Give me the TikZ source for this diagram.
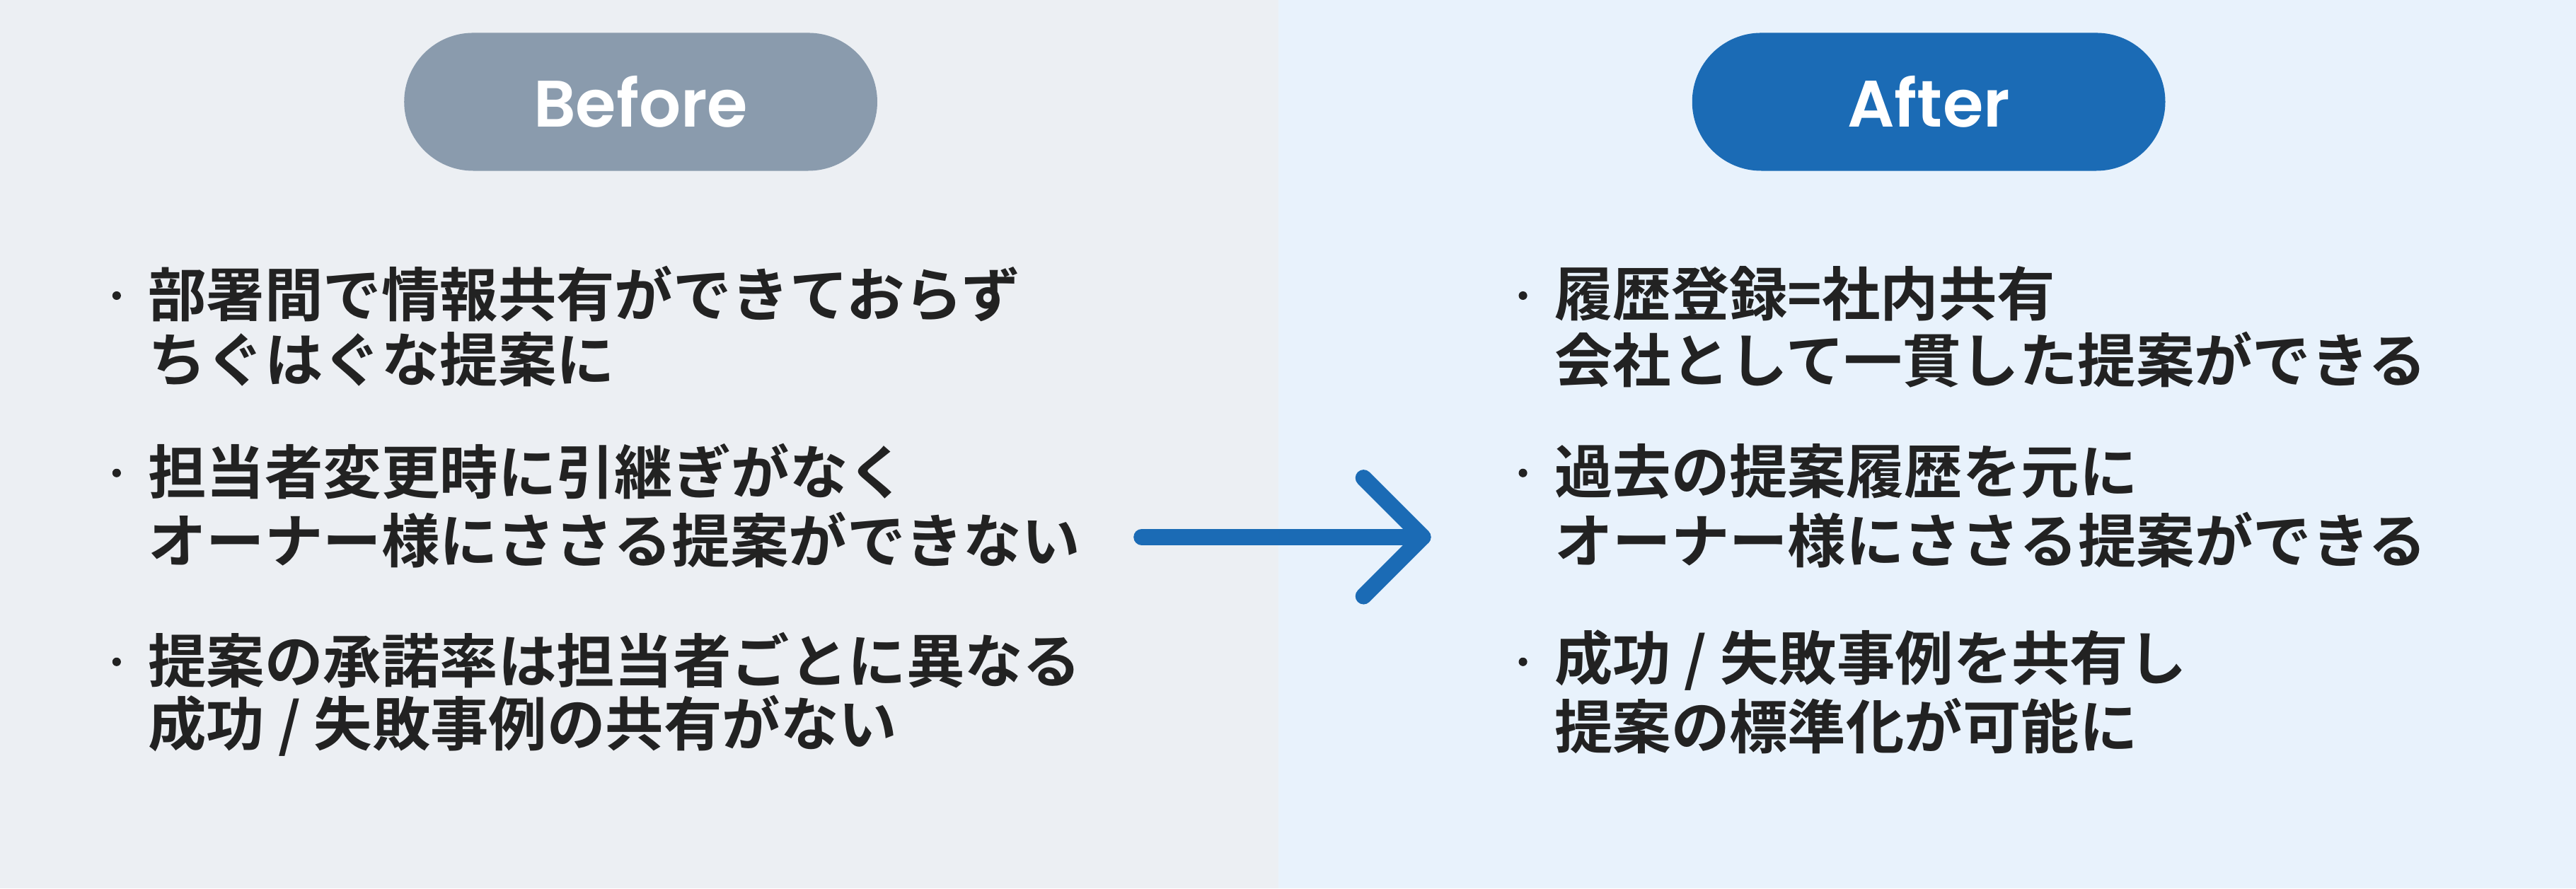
\documentclass[tikz,border=0pt]{standalone}
\usepackage{fontspec}
\setmainfont{Noto Sans CJK JP}
\newfontfamily\jpb{Noto Sans CJK JP Bold}
\newfontfamily\headf{Poppins SemiBold}
\definecolor{bgL}{HTML}{ECEFF3}
\definecolor{bgR}{HTML}{E8F2FC}
\definecolor{pillL}{HTML}{8A9BAD}
\definecolor{blueA}{HTML}{1B6BB5}
\definecolor{txt}{HTML}{222222}
\begin{document}
\begin{tikzpicture}[x=1pt,y=-1pt,
  pill/.style={rounded corners=42pt,minimum width=288pt,minimum height=84pt,inner sep=0pt,text=white,font=\headf\fontsize{40}{40}\selectfont},
  item/.style={anchor=west,inner sep=0pt,text=txt,font=\jpb\fontsize{35.5}{36}\selectfont,align=left}]
\useasboundingbox (0,0) rectangle (1568,541);
\fill[bgL] (0,0) rectangle (778,541);
\fill[bgR] (778,0) rectangle (1568,541);
\node[pill,fill=pillL] (before) at (390,62) {Before};
\node[pill,fill=blueA] (after) at (1174,62) {After};
\foreach \n/\y/\t in {l1/179/{部署間で情報共有ができておらず},l2/219/{ちぐはぐな提案に},l3/287/{担当者変更時に引継ぎがなく},l4/329/{オーナー様にささる提案ができない},l5/402/{提案の承諾率は担当者ごとに異なる},l6/442/{成功 / 失敗事例の共有がない}}
  \node[item] (\n) at (90,\y) {\t};
\foreach \n/\y/\t in {r1/179/{履歴登録=社内共有},r2/219/{会社として一貫した提案ができる},r3/287/{過去の提案履歴を元に},r4/329/{オーナー様にささる提案ができる},r5/402/{成功 / 失敗事例を共有し},r6/442/{提案の標準化が可能に}}
  \node[item] (\n) at (946,\y) {\t};
\foreach \y in {180,288,403} {
  \fill[txt] (71,\y) circle (2.6pt);
  \fill[txt] (927,\y) circle (2.6pt);
}
\coordinate (as) at (695,327);
\coordinate (ae) at (866,327);
\draw[blueA,line width=10pt,line cap=round] (as) -- (ae);
\draw[blueA,line width=10pt,line cap=round,line join=round] (830,291) -- (ae) -- (830,363);
\end{tikzpicture}
\end{document}
